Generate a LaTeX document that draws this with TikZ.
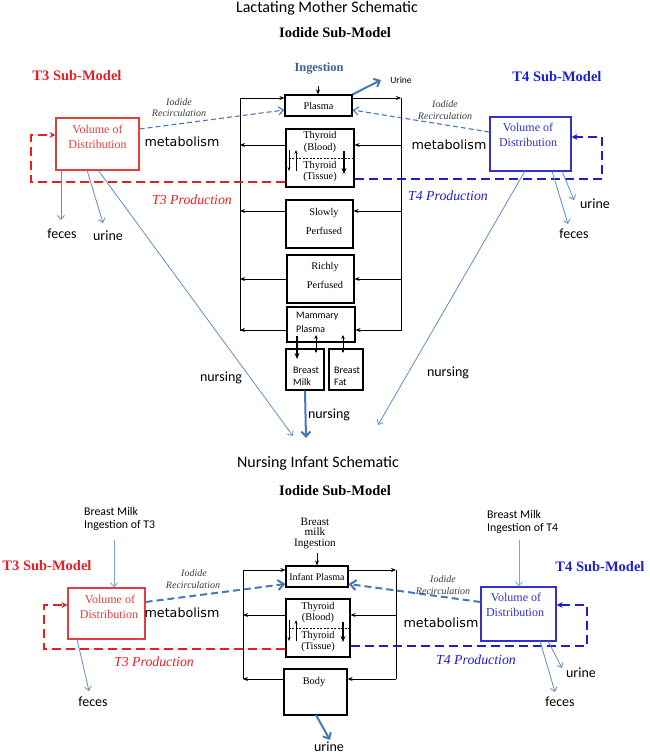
\documentclass[tikz,border=0pt]{standalone}
\usepackage{fontspec}
\setmainfont{Liberation Serif}
\newfontfamily\calfont{Carlito}
\newfontfamily\metafont{DejaVu Sans}
\usetikzlibrary{arrows.meta}
\definecolor{tred}{RGB}{228,32,36}
\definecolor{vred}{RGB}{226,62,62}
\definecolor{tblue}{RGB}{30,30,205}
\definecolor{vblue}{RGB}{50,50,200}
\definecolor{sblue}{RGB}{70,120,185}
\definecolor{lblue}{RGB}{95,140,200}
\definecolor{llblue}{RGB}{125,165,215}
\definecolor{ingc}{RGB}{60,95,145}
\definecolor{gtext}{RGB}{60,60,60}
\newcommand\fsz[1]{\fontsize{#1}{#1}\selectfont}
\tikzset{
 box/.style={draw, line width=1.2pt, inner sep=0pt},
 txt/.style={inner sep=0pt},
 net/.style={line width=0.8pt},
 flow/.style={line width=0.8pt, -{Stealth[length=5pt,width=4pt]}},
 thinb/.style={lblue, line width=0.8pt, -{Straight Barb[length=4pt,width=7pt]}},
 thinc/.style={llblue, line width=0.9pt, -{Straight Barb[length=4pt,width=7pt]}},
 thickb/.style={sblue, line width=2pt, -{Straight Barb[length=5pt,width=9pt]}},
 recirc/.style={sblue, line width=1.1pt, dash pattern=on 5pt off 3pt, -{Straight Barb[length=5pt,width=8pt]}},
 recircB/.style={sblue, line width=2pt, dash pattern=on 7pt off 4pt, -{Straight Barb[length=6pt,width=10pt]}},
 redloop/.style={tred, line width=2.2pt, dash pattern=on 9pt off 5pt, -{Stealth[length=6pt,width=6pt]}},
 blueloop/.style={tblue, line width=2.2pt, dash pattern=on 9pt off 5pt, -{Stealth[length=6pt,width=6pt]}},
 sans/.style={txt, font=\calfont\fsz{14}},
 ttl/.style={txt, font=\calfont\fsz{16}},
 meta/.style={txt, font=\metafont\fsz{12.7}},
 rec/.style={txt, font=\itshape\fsz{10}, text=gtext},
 sub/.style={txt, font=\bfseries\fsz{14.5}},
 prod/.style={txt, font=\itshape\fsz{13.8}},
 vod/.style={txt, font=\fsz{12}},
 cmp/.style={txt, font=\fsz{10.3}},
 cal/.style={txt, font=\calfont\fsz{10}, anchor=west},
 bmk/.style={txt, font=\calfont\fsz{11.8}, anchor=west},
 bmi/.style={txt, font=\fsz{11.2}},
 small/.style={line width=0.7pt, -{Stealth[length=4pt,width=3pt]}},
 bold/.style={line width=1.7pt, -{Stealth[length=6pt,width=5pt]}},
 dbl/.style={line width=0.7pt, {Stealth[length=4pt,width=3.5pt]}-{Stealth[length=4pt,width=3.5pt]}},
}
\begin{document}
\begin{tikzpicture}[x=1pt,y=-1pt]
\useasboundingbox (0,0) rectangle (650,755);
% ================= TOP: LACTATING MOTHER =================
\node[ttl] (title1) at (327,8) {Lactating Mother Schematic};
\node[sub] (iod1) at (335,33) {Iodide Sub-Model};
\node[sub, text=tred] (t3sub1) at (77,76) {T3 Sub-Model};
\node[sub, text=tblue] (t4sub1) at (557,77) {T4 Sub-Model};
\node[txt, font=\bfseries\fsz{12.4}, text=ingc] (ing1) at (319,69) {Ingestion};
\node[txt, font=\calfont\fsz{9.5}] (urineT) at (401,80) {Urine};
% boxes
\node[box, minimum width=67pt, minimum height=21pt] (plasma) at (318.5,105.5) {};
\node[cmp] (plasmaT) at (318.5,106) {Plasma};
\node[box, minimum width=68pt, minimum height=58pt] (thy1) at (320,158) {};
\node[cmp] (thy1a) at (320,136) {Thyroid};
\node[cmp] (thy1b) at (320,148) {(Blood)};
\node[cmp] (thy1c) at (320,166) {Thyroid};
\node[cmp] (thy1d) at (320,177) {(Tissue)};
\node[box, minimum width=67pt, minimum height=48pt] (slow) at (319.5,224) {};
\node[cmp] (slowa) at (324,213) {Slowly};
\node[cmp] (slowb) at (324,231) {Perfused};
\node[box, minimum width=67pt, minimum height=48pt] (rich) at (320.5,279) {};
\node[cmp] (richa) at (325,267) {Richly};
\node[cmp] (richb) at (325,285) {Perfused};
\node[box, minimum width=68pt, minimum height=35pt] (mam) at (321,324.5) {};
\node[cal] (mama) at (296,316) {Mammary};
\node[cal] (mamb) at (296,329) {Plasma};
\node[box, minimum width=38pt, minimum height=41pt] (milk) at (305,369.5) {};
\node[cal] (milka) at (293,370) {Breast};
\node[cal] (milkb) at (293,382) {Milk};
\node[box, minimum width=34pt, minimum height=41pt] (fat) at (346,369.5) {};
\node[cal] (fata) at (334,370) {Breast};
\node[cal] (fatb) at (334,382) {Fat};
% network lines
\coordinate (LT) at (240,98); \coordinate (LB) at (240,331);
\coordinate (RT) at (401,98); \coordinate (RB) at (401,331);
\draw[net] (LB) -- (LT);
\draw[net] (RT) -- (RB);
\draw[flow] (LT) -- (LT -| plasma.west);
\draw[flow] (RT -| plasma.east) -- (RT);
\coordinate (R1) at (401,145); \coordinate (R2) at (401,211);
\coordinate (R3) at (401,279); \coordinate (R4) at (401,330);
\draw[flow] (R1) -- (R1 -| thy1.east); \draw[flow] (R1 -| thy1.west) -- (R1 -| LT);
\draw[flow] (R2) -- (R2 -| slow.east); \draw[flow] (R2 -| slow.west) -- (R2 -| LT);
\draw[flow] (R3) -- (R3 -| rich.east); \draw[flow] (R3 -| rich.west) -- (R3 -| LT);
\draw[flow] (R4) -- (R4 -| mam.east); \draw[flow] (R4 -| mam.west) -- (R4 -| LT);
% ingestion & urine
\coordinate (ingS) at (318,86);
\draw[flow, line width=1pt] (ingS) -- (ingS |- plasma.north);
\coordinate (urE) at (381,80);
\draw[thickb] (plasma.north east) -- (urE);
% thyroid internals
\coordinate (td1) at (0,158);
\draw[line width=0.5pt, dash pattern=on 2pt off 1.5pt] (td1 -| thy1.west) -- (td1 -| thy1.east);
\draw[small] (289,150) -- (289,171);
\draw[small] (296,171) -- (296,150);
\draw[bold] (344,151) -- (344,174);
% mammary internals
\draw[bold] (297,336) -- (297,359);
\draw[dbl] (316,335) -- (316,353);
\draw[dbl] (343,335) -- (343,353);
% T3 VoD top
\node[box, draw=vred, minimum width=83pt, minimum height=52pt] (v3) at (97.5,144) {};
\node[vod, text=vred] (v3a) at (97.5,129) {Volume of};
\node[vod, text=vred] (v3b) at (97.5,144) {Distribution};
% T4 VoD top
\node[box, draw=vblue, minimum width=81pt, minimum height=54pt] (v4) at (530.5,144) {};
\node[vod, text=vblue] (v4a) at (528,127) {Volume of};
\node[vod, text=vblue] (v4b) at (528,142) {Distribution};
% loops
\coordinate (rl1) at (31,182); \coordinate (rl2) at (31,135);
\draw[redloop] (rl1 -| thy1.west) -- (rl1) -- (rl2) -- (rl2 -| v3.west);
\coordinate (bl1) at (602,179); \coordinate (bl2) at (602,137);
\draw[blueloop] (bl1 -| thy1.east) -- (bl1) -- (bl2) -- (bl2 -| v4.east);
% recirculation
\coordinate (rc1) at (0,129); \coordinate (rc2) at (0,110); \coordinate (rc3) at (0,132);
\draw[recirc] (rc1 -| v3.east) -- (rc2 -| plasma.west);
\draw[recirc] (rc3 -| v4.west) -- (rc2 -| plasma.east);
\node[rec] (rl3a) at (179,102) {Iodide};
\node[rec] (rl3b) at (179,113) {Recirculation};
\node[rec] (rl4a) at (445,104) {Iodide};
\node[rec] (rl4b) at (445,116) {Recirculation};
\node[meta] (met3) at (182,142) {metabolism};
\node[meta] (met4) at (449,145) {metabolism};
\node[prod, text=tred] (pr3) at (192,200) {T3 Production};
\node[prod, text=tblue] (pr4) at (448,196) {T4 Production};
% excretion top
\node[sans] (fec3) at (62,234) {feces};
\node[sans] (uri3) at (108,236) {urine};
\coordinate (f3s) at (61,170); \coordinate (f3e) at (61,220);
\draw[thinb] (f3s) -- (f3e);
\coordinate (u3s) at (87,170); \coordinate (u3e) at (103,223);
\draw[thinb] (u3s) -- (u3e);
\node[sans] (fec4) at (574,234) {feces};
\node[sans] (uri4) at (595,204) {urine};
\coordinate (f4s) at (552,171); \coordinate (f4e) at (568,224);
\draw[thinb] (f4s) -- (f4e);
\coordinate (u4s) at (562,171); \coordinate (u4e) at (574,200);
\draw[thinb] (u4s) -- (u4e);
% nursing
\coordinate (n3s) at (98,170); \coordinate (n3e) at (293,436);
\draw[thinb] (n3s) -- (n3e);
\coordinate (n4s) at (525,171); \coordinate (n4e) at (378,425);
\draw[thinb] (n4s) -- (n4e);
\coordinate (nmE) at (306,438);
\draw[thickb] (milk.south) -- (nmE);
\node[sans] (nurL) at (221,378) {nursing};
\node[sans] (nurR) at (448,373) {nursing};
\node[sans] (nurM) at (329,415) {nursing};
% ================= BOTTOM: NURSING INFANT =================
\node[ttl] (title2) at (318,463) {Nursing Infant Schematic};
\node[sub] (iod2) at (335,491) {Iodide Sub-Model};
\node[bmk] (bm3a) at (84,511) {Breast Milk};
\node[bmk] (bm3b) at (84,525) {Ingestion of T3};
\node[bmk] (bm4a) at (487,514) {Breast Milk};
\node[bmk] (bm4b) at (487,528) {Ingestion of T4};
\node[sub, text=tred] (t3sub2) at (47,566) {T3 Sub-Model};
\node[sub, text=tblue] (t4sub2) at (600,567) {T4 Sub-Model};
\node[bmi, anchor=base] (bmi1) at (315,525) {Breast};
\node[bmi, anchor=base] (bmi2) at (315,535.5) {milk};
\node[bmi, anchor=base] (bmi3) at (315,546.5) {Ingestion};
% boxes
\node[box, minimum width=62pt, minimum height=21pt] (iplasma) at (317,576.5) {};
\node[txt, font=\fsz{10}] (iplT) at (317,577) {Infant Plasma};
\node[box, minimum width=64pt, minimum height=58pt] (thy2) at (318,628) {};
\node[cmp] (thy2a) at (318,607) {Thyroid};
\node[cmp] (thy2b) at (318,618) {(Blood)};
\node[cmp] (thy2c) at (318,636) {Thyroid};
\node[cmp] (thy2d) at (318,647) {(Tissue)};
\node[box, minimum width=63pt, minimum height=46pt] (body) at (315.5,692) {};
\node[cmp] (bodyT) at (314,682) {Body};
% network
\coordinate (lt2) at (243,570); \coordinate (lb2) at (243,679);
\coordinate (rt2) at (396,570); \coordinate (rb2) at (396,679);
\draw[net] (lb2) -- (lt2);
\draw[net] (rt2) -- (rb2);
\draw[flow] (lt2) -- (lt2 -| iplasma.west);
\draw[flow] (rt2 -| iplasma.east) -- (rt2);
\coordinate (S1) at (396,615);
\draw[flow] (S1) -- (S1 -| thy2.east); \draw[flow] (S1 -| thy2.west) -- (S1 -| lt2);
\draw[flow] (rb2) -- (rb2 -| body.east); \draw[flow] (rb2 -| body.west) -- (lb2);
\coordinate (ing2) at (317,553);
\draw[flow, line width=1pt] (ing2) -- (ing2 |- iplasma.north);
% thyroid internals
\coordinate (td2) at (0,628);
\draw[line width=0.5pt, dash pattern=on 2pt off 1.5pt] (td2 -| thy2.west) -- (td2 -| thy2.east);
\draw[small] (289,620) -- (289,641);
\draw[small] (296,641) -- (296,620);
\draw[bold] (343,622) -- (343,642);
% urine
\coordinate (ubE) at (330,740);
\coordinate (ubS) at (316,715);
\draw[thickb] (ubS) -- (ubE);
\node[sans] (urB) at (329,747) {urine};
% VoDs
\node[box, draw=vred, minimum width=77pt, minimum height=51pt] (v3d) at (106.5,613.5) {};
\node[vod, text=vred] (v3da) at (110,599) {Volume of};
\node[vod, text=vred] (v3db) at (109,614) {Distribution};
\node[box, draw=vblue, minimum width=75pt, minimum height=54pt] (v4d) at (518.5,614) {};
\node[vod, text=vblue] (v4da) at (516,597) {Volume of};
\node[vod, text=vblue] (v4db) at (515,612) {Distribution};
\coordinate (b3s) at (114,540);
\draw[thinc] (b3s) -- (b3s |- v3d.north);
\coordinate (b4s) at (519,540);
\draw[thinc] (b4s) -- (b4s |- v4d.north);
% loops
\coordinate (rl3) at (44,649); \coordinate (rl4) at (44,605);
\draw[redloop] (rl3 -| thy2.west) -- (rl3) -- (rl4) -- (rl4 -| v3d.west);
\coordinate (bl3) at (587,646); \coordinate (bl4) at (587,605);
\draw[blueloop] (bl3 -| thy2.east) -- (bl3) -- (bl4) -- (bl4 -| v4d.east);
% recirculation
\coordinate (rc4) at (0,602); \coordinate (rc5) at (0,584);
\draw[recircB] (rc4 -| v3d.east) -- (rc5 -| iplasma.west);
\draw[recircB] (rc4 -| v4d.west) -- (rc5 -| iplasma.east);
\node[rec] (rl5a) at (194,573) {Iodide};
\node[rec] (rl5b) at (193,585) {Recirculation};
\node[rec] (rl6a) at (443,579) {Iodide};
\node[rec] (rl6b) at (443,591) {Recirculation};
\node[meta] (met5) at (182,613) {metabolism};
\node[meta] (met6) at (441,623) {metabolism};
\node[prod, text=tred] (pr5) at (154,662) {T3 Production};
\node[prod, text=tblue] (pr6) at (476,660) {T4 Production};
% excretion bottom
\coordinate (f5s) at (77,639); \coordinate (f5e) at (89,691);
\draw[thinb] (f5s) -- (f5e);
\node[sans] (fec5) at (93,702) {feces};
\coordinate (u6s) at (548,641); \coordinate (u6e) at (562,668);
\draw[thinb] (u6s) -- (u6e);
\node[sans] (uri6) at (581,673) {urine};
\coordinate (f6s) at (540,641); \coordinate (f6e) at (555,692);
\draw[thinb] (f6s) -- (f6e);
\node[sans] (fec6) at (560,702) {feces};
\end{tikzpicture}
\end{document}
